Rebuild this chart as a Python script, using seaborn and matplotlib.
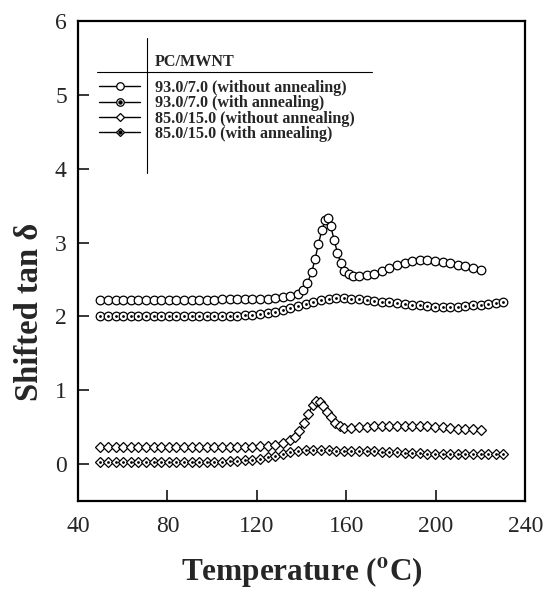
import matplotlib
matplotlib.use("Agg")
import matplotlib.pyplot as plt
from matplotlib.lines import Line2D
import seaborn as sns
import pandas as pd

# ---------------- data ----------------
# 93.0/7.0 without annealing
t1 = [50, 53.4, 56.8, 60.2, 63.6, 67, 70.4, 73.8, 77.2, 80.6, 84, 87.4, 90.8, 94.2,
      97.6, 101, 104.4, 107.8, 111.2, 114.6, 118, 121.4, 124.8, 128.2, 131.6, 135,
      138.4, 140.5, 142.5, 144.5, 146, 147.5, 149, 150.5, 151.8, 153, 154.5, 156,
      157.5, 159, 161, 163, 165.6, 169, 172.4, 175.8, 179.2, 182.6, 186, 189.4,
      192.8, 196.2, 199.6, 203, 206.4, 209.8, 213.2, 216.6, 220]
y1 = [2.22, 2.22, 2.22, 2.22, 2.22, 2.22, 2.22, 2.22, 2.22, 2.22, 2.22, 2.22, 2.22, 2.22,
      2.22, 2.22, 2.23, 2.23, 2.23, 2.23, 2.23, 2.24, 2.24, 2.25, 2.26, 2.28,
      2.31, 2.36, 2.45, 2.60, 2.78, 2.98, 3.17, 3.30, 3.33, 3.22, 3.04, 2.86,
      2.72, 2.62, 2.57, 2.55, 2.55, 2.56, 2.58, 2.62, 2.66, 2.70, 2.73, 2.75,
      2.76, 2.76, 2.75, 2.74, 2.72, 2.70, 2.68, 2.66, 2.63]

# 93.0/7.0 with annealing
t2 = [50, 53.4, 56.8, 60.2, 63.6, 67, 70.4, 73.8, 77.2, 80.6, 84, 87.4, 90.8, 94.2,
      97.6, 101, 104.4, 107.8, 111.2, 114.6, 118, 121.4, 124.8, 128.2, 131.6, 135,
      138.4, 141.8, 145.2, 148.6, 152, 155.4, 158.8, 162.2, 165.6, 169, 172.4, 175.8,
      179.2, 182.6, 186, 189.4, 192.8, 196.2, 199.6, 203, 206.4, 209.8, 213.2, 216.6,
      220, 223.4, 226.8, 230.2]
y2 = [2.00, 2.00, 2.00, 2.00, 2.00, 2.00, 2.00, 2.00, 2.00, 2.00, 2.00, 2.01, 2.01, 2.01,
      2.01, 2.01, 2.01, 2.01, 2.01, 2.02, 2.02, 2.03, 2.04, 2.06, 2.08, 2.11,
      2.14, 2.17, 2.20, 2.22, 2.24, 2.25, 2.25, 2.24, 2.23, 2.22, 2.21, 2.20,
      2.19, 2.18, 2.17, 2.16, 2.15, 2.14, 2.13, 2.13, 2.13, 2.13, 2.14, 2.15,
      2.16, 2.17, 2.18, 2.20]

# 85.0/15.0 without annealing
t3 = [50, 53.4, 56.8, 60.2, 63.6, 67, 70.4, 73.8, 77.2, 80.6, 84, 87.4, 90.8, 94.2,
      97.6, 101, 104.4, 107.8, 111.2, 114.6, 118, 121.4, 124.8, 128.2, 131.6, 135,
      137, 139, 141, 143, 145, 146.5, 148, 149.6, 151.5, 153, 155, 157, 159, 162.2,
      165.6, 169, 172.4, 175.8, 179.2, 182.6, 186, 189.4, 192.8, 196.2, 199.6, 203,
      206.4, 209.8, 213.2, 216.6, 220]
y3 = [0.23, 0.23, 0.23, 0.23, 0.23, 0.23, 0.23, 0.23, 0.23, 0.23, 0.23, 0.23, 0.23, 0.23,
      0.23, 0.23, 0.23, 0.23, 0.23, 0.23, 0.23, 0.24, 0.25, 0.26, 0.28, 0.32,
      0.37, 0.45, 0.56, 0.68, 0.80, 0.86, 0.84, 0.78, 0.70, 0.63, 0.56, 0.51, 0.49, 0.49,
      0.50, 0.50, 0.51, 0.51, 0.52, 0.52, 0.52, 0.52, 0.51, 0.51, 0.50, 0.50,
      0.49, 0.48, 0.48, 0.47, 0.46]

# 85.0/15.0 with annealing
t4 = t2
y4 = [0.02, 0.02, 0.02, 0.02, 0.02, 0.02, 0.03, 0.03, 0.03, 0.03, 0.03, 0.03, 0.03, 0.03,
      0.03, 0.03, 0.03, 0.04, 0.04, 0.05, 0.06, 0.07, 0.09, 0.11, 0.14, 0.16,
      0.18, 0.19, 0.19, 0.19, 0.19, 0.18, 0.18, 0.18, 0.17, 0.17, 0.17, 0.16,
      0.16, 0.16, 0.15, 0.15, 0.15, 0.14, 0.14, 0.14, 0.14, 0.13, 0.13, 0.13,
      0.13, 0.13, 0.14, 0.14]

labels = ["93.0/7.0 (without annealing)", "93.0/7.0 (with annealing)",
          "85.0/15.0 (without annealing)", "85.0/15.0 (with annealing)"]
xticks = [40, 80, 120, 160, 200, 240]
yticks = [0, 1, 2, 3, 4, 5, 6]

# ---------------- plot ----------------
sns.set_theme(style="ticks")
plt.rcParams["font.family"] = ["Liberation Serif", "DejaVu Serif"]
plt.rcParams["mathtext.fontset"] = "stix"

fig = plt.figure(figsize=(5.45, 5.92), dpi=100)
ax = fig.add_axes([0.143, 0.154, 0.821, 0.810])

series = [(t1, y1, "o", False), (t2, y2, "o", True), (t3, y3, "D", False), (t4, y4, "D", True)]
handles = []
for (t, y, m, dot), lab in zip(series, labels):
    ms = 6.2 if m == "o" else 5.2
    df = pd.DataFrame({"T": t, "v": y})
    sns.lineplot(data=df, x="T", y="v", ax=ax, color="black", lw=1.0,
                 marker=m, markersize=ms, markerfacecolor="white",
                 markeredgecolor="black", markeredgewidth=0.9)
    h = Line2D([], [], color="black", lw=1.0, marker=m, markersize=ms - 0.8,
               markerfacecolor="white", markeredgecolor="black", markeredgewidth=0.9)
    if dot:
        sns.scatterplot(data=df, x="T", y="v", ax=ax, color="black", s=4,
                        marker="o", linewidth=0, zorder=5)
        hd = Line2D([], [], ls="none", marker="o", markersize=2.2, color="black")
        handles.append((h, hd))
    else:
        handles.append(h)

ax.set_xlim(40, 240)
ax.set_ylim(-0.5, 6)
ax.set_xticks(xticks)
ax.set_yticks(yticks)
ax.tick_params(direction="in", length=8, width=1.3, labelsize=17, top=False, right=False)
ax.tick_params(axis="x", pad=11)
ax.tick_params(axis="y", pad=8)
for s in ax.spines.values():
    s.set_linewidth(1.6)
    s.set_color("black")

ax.set_xlabel("Temperature ($^{\\mathbf{o}}$C)", fontsize=22.5, fontweight="bold", labelpad=13)
ax.set_ylabel("Shifted tan δ", fontsize=23.5, fontweight="bold")
ax.yaxis.set_label_coords(-0.074, 0.394)

leg = ax.legend(handles, labels, loc="upper left", bbox_to_anchor=(0.047, 0.878),
                frameon=False, handlelength=2.55, handletextpad=0.9, labelspacing=-0.04,
                borderaxespad=0, borderpad=0,
                prop={"family": "Liberation Serif", "weight": "bold", "size": 11.6})

# header and table rules of the legend
ax.text(0.172, 0.915, "PC/MWNT", transform=ax.transAxes, fontsize=11.6,
        fontweight="bold", ha="left", va="center")
ax.add_line(Line2D([0.0425, 0.658], [0.894, 0.894], transform=ax.transAxes,
                   color="black", lw=0.8))
ax.add_line(Line2D([0.154, 0.154], [0.683, 0.965], transform=ax.transAxes,
                   color="black", lw=0.8))

fig.savefig("out.png", dpi=100)
